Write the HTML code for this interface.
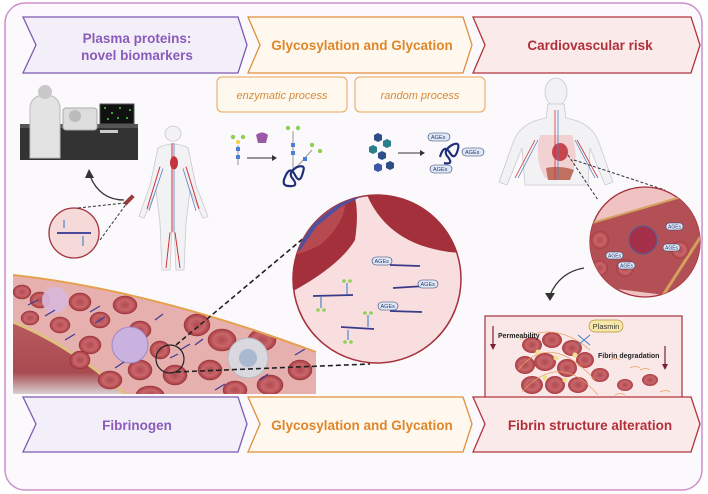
<!DOCTYPE html>
<html><head><meta charset="utf-8"><style>
html,body{margin:0;padding:0;background:#fff;}
svg{display:block;font-family:"Liberation Sans",sans-serif;}
</style></head><body>
<svg width="708" height="494" viewBox="0 0 708 494" xmlns="http://www.w3.org/2000/svg">
<defs>
<radialGradient id="rbc" cx="50%" cy="50%" r="50%"><stop offset="0" stop-color="#b04a50"/><stop offset="0.6" stop-color="#c8666a"/><stop offset="1" stop-color="#a93a42"/></radialGradient>
<linearGradient id="wall" x1="0" y1="0" x2="0" y2="1"><stop offset="0" stop-color="#b85a5e"/><stop offset="0.7" stop-color="#a84a50"/><stop offset="1" stop-color="#d8d0d0"/></linearGradient>
<clipPath id="c1"><circle cx="377" cy="279" r="84"/></clipPath>
<clipPath id="c2"><circle cx="645" cy="242" r="55"/></clipPath>
<clipPath id="vessel"><path d="M13 275 Q150 290 316 352 L316 394 L13 394 Z"/></clipPath>
</defs>
<rect x="0" y="0" width="708" height="494" fill="#fff"/>
<rect x="5" y="3" width="697" height="487" rx="20" fill="#fbf9fb" stroke="#cf8fcb" stroke-width="1.5"/>

<!-- top chevrons -->
<path d="M23 17 L238 17 L247 45 L238 73 L23 73 L36 45 Z" fill="#f3eff8" stroke="#7d5ab5" stroke-width="1.3"/>
<path d="M248 17 L463 17 L472 45 L463 73 L248 73 L260 45 Z" fill="#fef8ee" stroke="#e0903a" stroke-width="1.3"/>
<path d="M473 17 L691 17 L700 45 L691 73 L473 73 L485 45 Z" fill="#fbeaea" stroke="#b0343d" stroke-width="1.3"/>
<text x="137" y="43" text-anchor="middle" font-size="13.5" font-weight="bold" fill="#8a5bbb">Plasma proteins:</text>
<text x="137" y="60" text-anchor="middle" font-size="13.5" font-weight="bold" fill="#8a5bbb">novel biomarkers</text>
<text x="362" y="50" text-anchor="middle" font-size="13.5" font-weight="bold" fill="#e0862a">Glycosylation and Glycation</text>
<text x="590" y="50" text-anchor="middle" font-size="13.5" font-weight="bold" fill="#b0303a">Cardiovascular risk</text>

<!-- process boxes -->
<rect x="217" y="77" width="130" height="35" rx="5" fill="#fef8ee" stroke="#e8a55a" stroke-width="1"/>
<rect x="355" y="77" width="130" height="35" rx="5" fill="#fef8ee" stroke="#e8a55a" stroke-width="1"/>
<text x="282" y="99" text-anchor="middle" font-size="11" font-style="italic" fill="#d88a3a">enzymatic process</text>
<text x="420" y="99" text-anchor="middle" font-size="11" font-style="italic" fill="#d88a3a">random process</text>

<!-- lab scene -->
<g transform="translate(0,-32)">
<rect x="20" y="158" width="118" height="34" fill="#333"/>
<rect x="20" y="156" width="118" height="4" fill="#555"/>
<path d="M30 140 Q30 132 38 128 L52 128 Q60 132 60 140 L60 190 L30 190 Z" fill="#e3e3e3" stroke="#bbb"/>
<circle cx="45" cy="124" r="7" fill="#c8c8c8"/>
<rect x="63" y="140" width="34" height="22" rx="3" fill="#ddd" stroke="#aaa"/>
<circle cx="75" cy="148" r="6" fill="#bbb"/>
<rect x="100" y="136" width="34" height="20" fill="#111" stroke="#555"/>
<g fill="#4fd04f"><circle cx="105" cy="140" r="1"/><circle cx="112" cy="145" r="1"/><circle cx="120" cy="140" r="1"/><circle cx="127" cy="150" r="1"/><circle cx="108" cy="151" r="1"/><circle cx="118" cy="150" r="1"/><circle cx="130" cy="142" r="1"/></g>
<rect x="100" y="162" width="18" height="3" fill="#ccc"/>
</g>
<path d="M124 200 Q100 200 90 176" fill="none" stroke="#333" stroke-width="1.3"/>
<path d="M85 178 L89 169 L94 178 Z" fill="#333"/>

<!-- left human -->
<g transform="translate(173,270) scale(1,0.94) translate(-173,-270)">
<g stroke="#c8c8d0" fill="#f2f2f5" stroke-width="0.8">
<circle cx="173" cy="125" r="8"/>
<path d="M158 140 Q173 132 188 140 L196 180 L208 213 L203 215 L190 185 L186 220 L184 270 L176 270 L174 225 L172 225 L170 270 L162 270 L160 220 L156 185 L144 215 L139 213 L150 180 Z"/>
</g>
<path d="M172 135 L172 230 M170 230 L166 268 M175 230 L180 268 M160 160 L147 205 M186 160 L199 205" stroke="#c33" stroke-width="1" fill="none"/>
<path d="M174 135 L174 230 M163 162 L149 207 M183 162 L196 207" stroke="#5a7fc6" stroke-width="0.8" fill="none"/>
<ellipse cx="174" cy="156" rx="4" ry="7" fill="#c2333a"/>
</g>
<rect x="123" y="198" width="12" height="4" fill="#9c3b3b" transform="rotate(-45 129 200)"/>
<circle cx="74" cy="233" r="25" fill="#f6dada" stroke="#a3303a" stroke-width="1.3"/>
<path d="M57 233 L91 233" stroke="#4a4a9a" stroke-width="2"/>
<path d="M64 228 L64 220 M83 236 L83 246" stroke="#6a9ad0" stroke-width="1.5"/>
<path d="M78 208 L125 203 M100 240 L127 203" stroke="#333" stroke-dasharray="3,2" fill="none"/>

<!-- enzymatic icons -->
<g stroke-width="1" transform="translate(0,-45)">
<line x1="238" y1="190" x2="238" y2="210" stroke="#999"/>
<circle cx="233" cy="182" r="2.2" fill="#8fcf54"/><circle cx="243" cy="182" r="2.2" fill="#8fcf54"/>
<rect x="236" y="192" width="4" height="4" fill="#4a7fd8"/><rect x="236" y="200" width="4" height="4" fill="#4a7fd8"/><circle cx="238" cy="187" r="2" fill="#f0d040"/>
<path d="M256 180 Q262 175 268 180 L266 188 L258 188 Z" fill="#9a5aa8"/>
<line x1="247" y1="203" x2="272" y2="203" stroke="#333"/><path d="M272 200 L277 203 L272 206 Z" fill="#333"/>
<line x1="293" y1="176" x2="293" y2="215" stroke="#999"/><circle cx="288" cy="173" r="2.2" fill="#8fcf54"/><circle cx="298" cy="173" r="2.2" fill="#8fcf54"/>
<rect x="291" y="188" width="4" height="4" fill="#4a7fd8"/><rect x="291" y="196" width="4" height="4" fill="#4a7fd8"/>
<path d="M296 213 L312 195" stroke="#999"/><circle cx="312" cy="190" r="2.2" fill="#8fcf54"/><circle cx="320" cy="196" r="2.2" fill="#8fcf54"/><rect x="303" y="202" width="4" height="4" fill="#4a7fd8"/>
<path d="M285 222 q5 -12 10 -2 q5 10 8 -3 q3 -8 -6 -5 q-10 6 -4 12 q6 8 -4 7 q-8 0 -4 -9" fill="none" stroke="#1f2f7a" stroke-width="2.2"/>
</g>
<!-- random process -->
<g transform="translate(0,-45)">
<g fill="#2c4f8a">
<polygon points="378,178 382,180 382,185 378,187 374,185 374,180"/>
<polygon points="387,184 391,186 391,191 387,193 383,191 383,186" fill="#2a7f8a"/>
<polygon points="373,190 377,192 377,197 373,199 369,197 369,192" fill="#2a7f8a"/>
<polygon points="382,196 386,198 386,203 382,205 378,203 378,198"/>
<polygon points="390,206 394,208 394,213 390,215 386,213 386,208"/>
<polygon points="378,208 382,210 382,215 378,217 374,215 374,210" fill="#3a5aa8"/>
</g>
<line x1="398" y1="198" x2="420" y2="198" stroke="#333"/><path d="M420 195 L425 198 L420 201 Z" fill="#333"/>
<path d="M440 202 q4 -14 10 -4 q5 8 8 -4 q2 -8 -6 -4 q-10 6 -4 12 q6 8 -4 6" fill="none" stroke="#1f2f7a" stroke-width="2.2"/>
<g font-size="5.5" fill="#2a3a6a"><rect x="428" y="178" width="22" height="8" rx="4" fill="#dfe8f6" stroke="#2a3a6a" stroke-width="0.6"/><text x="431" y="184">AGEs</text>
<rect x="462" y="193" width="22" height="8" rx="4" fill="#dfe8f6" stroke="#2a3a6a" stroke-width="0.6"/><text x="465" y="199">AGEs</text>
<rect x="430" y="210" width="22" height="8" rx="4" fill="#dfe8f6" stroke="#2a3a6a" stroke-width="0.6"/><text x="433" y="216">AGEs</text></g>
</g>

<!-- right human -->
<g stroke="#c8c8d0" fill="#f2f2f5" stroke-width="0.8">
<ellipse cx="556" cy="92" rx="11" ry="14"/>
<path d="M548 104 L564 104 L566 118 Q590 122 598 140 L613 182 L605 185 L590 148 L588 185 L525 185 L522 148 L507 185 L499 182 L514 140 Q522 122 546 118 Z"/>
</g>
<path d="M540 135 Q534 160 545 178 L570 178 Q580 160 572 135 Z" fill="#f0c8c8" opacity="0.8"/>
<ellipse cx="560" cy="152" rx="8" ry="9" fill="#c7464c"/>
<path d="M546 168 Q560 165 574 170 L570 180 L548 180 Z" fill="#c07060"/>
<path d="M555 110 L555 180 M535 140 L515 178 M577 140 L598 178" stroke="#c33" stroke-width="0.8" fill="none"/>
<path d="M558 110 L558 180 M538 140 L518 178 M575 140 L595 178" stroke="#5a7fc6" stroke-width="0.8" fill="none"/>
<path d="M568 155 L598 200 M574 160 L665 190" stroke="#333" stroke-dasharray="3,2" fill="none"/>
<circle cx="645" cy="242" r="55" fill="#f0c2c2" stroke="#a3303a" stroke-width="1.3"/>
<g clip-path="url(#c2)">
<path d="M585 225 L705 190 L705 300 L585 285 Z" fill="#b25055"/>
<path d="M585 225 L705 190" stroke="#d4a060" stroke-width="2"/>
<path d="M660 300 L705 230" stroke="#d4a060" stroke-width="3"/>
<circle cx="600" cy="240" r="9" fill="url(#rbc)"/><circle cx="680" cy="250" r="9" fill="url(#rbc)"/><circle cx="625" cy="268" r="9" fill="url(#rbc)"/><circle cx="600" cy="268" r="8" fill="url(#rbc)"/>
<circle cx="643" cy="240" r="14" fill="#a4304a" stroke="#5060a0" stroke-width="1"/>
</g>
<g font-size="5" fill="#2a3a6a">
<rect x="606" y="252" width="17" height="7" rx="3.5" fill="#dfe8f6" stroke="#2a3a6a" stroke-width="0.5"/><text x="608" y="257.5">AGEs</text>
<rect x="618" y="262" width="17" height="7" rx="3.5" fill="#dfe8f6" stroke="#2a3a6a" stroke-width="0.5"/><text x="620" y="267.5">AGEs</text>
<rect x="663" y="244" width="17" height="7" rx="3.5" fill="#dfe8f6" stroke="#2a3a6a" stroke-width="0.5"/><text x="665" y="249.5">AGEs</text>
<rect x="666" y="223" width="17" height="7" rx="3.5" fill="#dfe8f6" stroke="#2a3a6a" stroke-width="0.5"/><text x="668" y="228.5">AGEs</text></g>
<path d="M584 268 Q560 272 550 295" fill="none" stroke="#333" stroke-width="1.3"/>
<path d="M545 293 L550 301 L555 293 Z" fill="#333"/>

<!-- fibrin box -->
<rect x="485" y="316" width="197" height="88" fill="#fae8e8" stroke="#a3303a" stroke-width="1.2"/>
<line x1="493" y1="326" x2="493" y2="346" stroke="#7a2030" stroke-width="1.2"/><path d="M490 344 L493 350 L496 344 Z" fill="#7a2030"/>
<g fill="url(#rbc)">
<ellipse cx="532" cy="345" rx="10" ry="8"/><ellipse cx="552" cy="340" rx="10" ry="8"/><ellipse cx="572" cy="348" rx="10" ry="8"/>
<ellipse cx="525" cy="365" rx="10" ry="9"/><ellipse cx="545" cy="362" rx="11" ry="9"/><ellipse cx="567" cy="368" rx="10" ry="9"/><ellipse cx="585" cy="360" rx="9" ry="8"/>
<ellipse cx="532" cy="385" rx="11" ry="9"/><ellipse cx="555" cy="385" rx="10" ry="9"/><ellipse cx="578" cy="385" rx="10" ry="8"/>
<ellipse cx="600" cy="375" rx="9" ry="7"/><ellipse cx="625" cy="385" rx="8" ry="6"/><ellipse cx="650" cy="380" rx="8" ry="6"/>
</g>
<g fill="none" stroke="#e8a060" stroke-width="0.7"><path d="M520 340 Q555 320 590 350 M518 370 Q550 330 595 380 M522 392 Q560 350 598 395"/><path d="M610 360 q6 -3 10 0 M630 368 q6 -3 10 0 M615 395 q6 -3 10 0 M660 392 q6 -3 10 0 M640 370 q6 -3 10 0"/></g>
<g fill="#f3e08a"><circle cx="538" cy="352" r="2.5"/><circle cx="556" cy="358" r="2.5"/><circle cx="575" cy="355" r="2.5"/><circle cx="545" cy="378" r="2.5"/><circle cx="565" cy="380" r="2.5"/></g>
<text x="498" y="338" font-size="7" font-weight="bold" fill="#222">Permeability</text>
<rect x="589" y="320" width="34" height="12" rx="6" fill="#f8e8a8" stroke="#b09040" stroke-width="0.7"/>
<text x="606" y="329" text-anchor="middle" font-size="7.5" fill="#333">Plasmin</text>
<text x="598" y="358" font-size="7" font-weight="bold" fill="#222">Fibrin degradation</text>
<line x1="665" y1="346" x2="665" y2="366" stroke="#7a2030" stroke-width="1.2"/><path d="M662 364 L665 370 L668 364 Z" fill="#7a2030"/>
<path d="M578 335 L590 345 M578 345 L590 335" stroke="#4a7fc0" stroke-width="1"/>

<!-- vessel -->
<g clip-path="url(#vessel)">
<rect x="0" y="260" width="330" height="140" fill="#e6b0ae"/>
<path d="M13 322 Q70 345 125 394 L13 394 Z" fill="url(#wall)"/>
<path d="M13 322 Q70 345 125 394" fill="none" stroke="#e0c080" stroke-width="3"/>
<g fill="url(#rbc)" stroke="#8a2c34" stroke-width="0.5">
<ellipse cx="22" cy="292" rx="9" ry="7"/><ellipse cx="40" cy="300" rx="10" ry="8"/><ellipse cx="30" cy="318" rx="9" ry="7"/>
<ellipse cx="80" cy="302" rx="11" ry="9"/><ellipse cx="60" cy="325" rx="10" ry="8"/><ellipse cx="90" cy="345" rx="11" ry="9"/>
<ellipse cx="125" cy="305" rx="12" ry="9"/><ellipse cx="100" cy="320" rx="10" ry="8"/><ellipse cx="140" cy="330" rx="11" ry="9"/>
<ellipse cx="80" cy="360" rx="10" ry="9"/><ellipse cx="110" cy="380" rx="12" ry="9"/><ellipse cx="140" cy="370" rx="12" ry="10"/>
<ellipse cx="160" cy="350" rx="10" ry="9"/><ellipse cx="175" cy="375" rx="12" ry="10"/><ellipse cx="197" cy="325" rx="13" ry="11"/>
<ellipse cx="222" cy="340" rx="14" ry="11"/><ellipse cx="210" cy="370" rx="12" ry="10"/><ellipse cx="262" cy="340" rx="14" ry="11"/>
<ellipse cx="270" cy="385" rx="13" ry="10"/><ellipse cx="300" cy="370" rx="12" ry="10"/><ellipse cx="235" cy="390" rx="12" ry="9"/><ellipse cx="150" cy="395" rx="14" ry="9"/>
</g>
<circle cx="55" cy="300" r="13" fill="#d9b8dc" opacity="0.9"/>
<circle cx="130" cy="345" r="18" fill="#c9b2df" stroke="#a088c8"/>
<circle cx="248" cy="358" r="20" fill="#d8d8de" stroke="#b8b8c2"/><circle cx="248" cy="358" r="9" fill="#aab8d0"/>
<g stroke="#3a3a9a" stroke-width="1.2"><path d="M28 305 l10 -5 M45 316 l10 -6 M90 312 l10 -6 M95 323 l10 -6 M65 340 l10 -6 M155 320 l8 -6 M180 350 l10 -6 M195 345 l8 -6 M260 380 l8 -6 M295 355 l10 -6 M215 390 l10 -6 M115 368 l9 -6 M170 358 l8 -4"/></g>
</g>
<path d="M13 275 Q150 290 316 352" fill="none" stroke="#e5a050" stroke-width="2"/>
<circle cx="170" cy="359" r="14" fill="none" stroke="#222" stroke-width="1.2"/>
<path d="M176 345 L305 237 M176 372 L370 364" stroke="#222" stroke-width="1.6" stroke-dasharray="5,3" fill="none"/>

<!-- big circle -->
<circle cx="377" cy="279" r="84" fill="#f8dede" stroke="#a3303a" stroke-width="1.5"/>
<g clip-path="url(#c1)">
<path d="M280 190 L352 190 Q360 205 355 240 Q340 265 295 290 L280 290 Z" fill="#a3303a"/>
<path d="M290 190 L345 190 Q350 220 320 245 Q300 255 290 255 Z" fill="#b64a50"/>
<path d="M365 190 Q380 230 420 245 Q450 255 470 252 L470 190 Z" fill="#a3303a"/>
<path d="M298 250 L315 225 L340 205 L360 195" stroke="#5050a0" stroke-width="4" fill="none"/>
</g>
<g stroke="#3a3a8a" stroke-width="1.8" fill="none">
<path d="M390 265 L420 266"/><path d="M393 288 L425 286"/><path d="M390 311 L422 312"/>
<path d="M313 296 L353 295"/><path d="M341 327 L374 329"/>
</g>
<g stroke="#6a9ad0" stroke-width="1.5"><path d="M347 283 L347 294 M321 297 L321 308 M368 315 L368 327 M348 330 L348 340"/></g>
<g fill="#8fcf54"><circle cx="344" cy="281" r="1.8"/><circle cx="350" cy="281" r="1.8"/><circle cx="318" cy="310" r="1.8"/><circle cx="324" cy="310" r="1.8"/><circle cx="365" cy="313" r="1.8"/><circle cx="371" cy="313" r="1.8"/><circle cx="345" cy="342" r="1.8"/><circle cx="351" cy="342" r="1.8"/></g>
<g font-size="5.5" fill="#2a3a6a">
<rect x="372" y="257" width="20" height="8" rx="4" fill="#dfe8f6" stroke="#2a3a6a" stroke-width="0.6"/><text x="374.5" y="263">AGEs</text>
<rect x="418" y="280" width="20" height="8" rx="4" fill="#dfe8f6" stroke="#2a3a6a" stroke-width="0.6"/><text x="420.5" y="286">AGEs</text>
<rect x="378" y="302" width="20" height="8" rx="4" fill="#dfe8f6" stroke="#2a3a6a" stroke-width="0.6"/><text x="380.5" y="308">AGEs</text></g>

<!-- bottom chevrons -->
<path d="M23 397 L238 397 L247 424 L238 452 L23 452 L36 424 Z" fill="#f3eff8" stroke="#7d5ab5" stroke-width="1.3"/>
<path d="M248 397 L463 397 L472 424 L463 452 L248 452 L260 424 Z" fill="#fef8ee" stroke="#e0903a" stroke-width="1.3"/>
<path d="M473 397 L691 397 L700 424 L691 452 L473 452 L485 424 Z" fill="#fbeaea" stroke="#b0343d" stroke-width="1.3"/>
<text x="137" y="430" text-anchor="middle" font-size="13.5" font-weight="bold" fill="#8a5bbb">Fibrinogen</text>
<text x="362" y="430" text-anchor="middle" font-size="13.5" font-weight="bold" fill="#e0862a">Glycosylation and Glycation</text>
<text x="590" y="430" text-anchor="middle" font-size="13.5" font-weight="bold" fill="#b0303a">Fibrin structure alteration</text>
</svg>
</body></html>
